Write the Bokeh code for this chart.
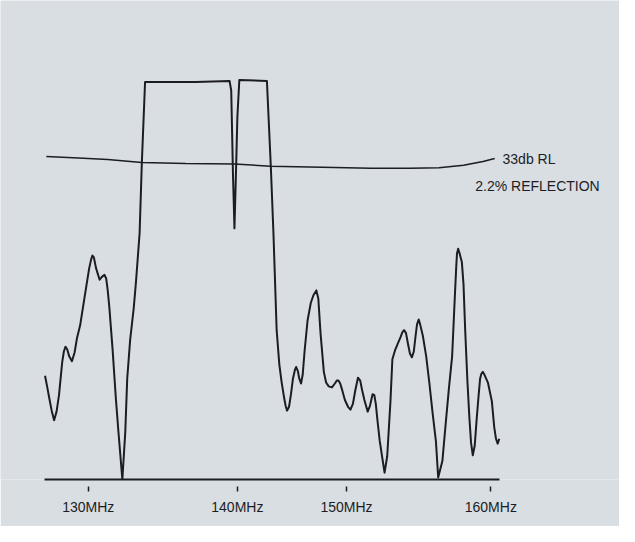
from bokeh.plotting import figure
from bokeh.models import Range1d, FixedTicker, ColumnDataSource
from bokeh.core.properties import value
from bokeh.embed import file_html
from bokeh.resources import INLINE

# Sweep position (horizontal chart units) and response level (vertical chart units)
sweep_pos = [45.7, 48, 50, 52.5, 55, 57.5, 60, 63.3, 65, 66.7, 68.5, 70.5, 73.3, 76, 78.5,
             81.7, 85, 88.3, 91, 93, 94.3, 95.8, 98, 101.7, 104, 106.7, 108.5, 110, 111.7,
             115, 118.3, 121, 125, 128, 130, 133, 136.7, 139, 142.7,
             145, 148.3, 200, 235, 236.7, 238.5, 240, 241.5, 243, 245, 273.3, 277.3, 280,
             283.3, 286, 288.3, 291, 292.5, 294, 296, 298, 300, 302, 303.3, 305, 306.5,
             308.3, 310, 312, 315, 318.3, 321, 324, 326, 328.3, 331.7, 334, 336.7, 340,
             343, 345, 346.7, 348.5, 350, 353.3, 356.5, 359, 361.5, 364, 366.7, 369,
             371, 373.3, 376.7, 379, 381.7, 383.5, 385, 386.7, 389, 391.7, 394, 396.7,
             400, 402, 405, 408.3, 410.5, 412.3, 414, 416, 418, 420, 422, 424, 425.8,
             427.3, 429, 430.5, 433.3, 436.7, 440, 443, 446.7, 449, 453.3, 457, 460,
             463.3, 466, 467.5, 468.3, 469.5, 471, 473.3, 475, 476.7, 479, 481, 482.7,
             484.5, 486.5, 488.3, 490.5, 492, 493.3, 494.8, 496.5, 500, 504, 506.5, 508.3,
             510, 511.7]
response = [107, 95, 84, 71, 61, 70, 87, 121, 132, 137, 134, 127, 122, 131, 146,
            159, 180, 201, 218, 227, 231, 229, 218, 206, 209, 211, 207, 195, 177,
            134, 84, 49, 0, 49, 104, 144, 177, 204, 254,
            327, 410, 410, 411, 401, 314, 259, 314, 374, 412, 411, 323, 254,
            154, 119, 101, 84, 76, 71, 75, 88, 104, 113, 116, 112, 104,
            99, 108, 133, 164, 182, 190, 195, 187, 151, 111, 100, 96, 95,
            99, 102, 102, 99, 94, 82, 75, 72, 78, 92, 105, 102,
            92, 82, 70, 76, 88, 87, 78, 61, 40, 22, 7, 24, 80,
            124, 134, 142, 147, 152, 154, 151, 140, 130, 126, 132, 148, 160,
            165, 160, 148, 127, 99, 71, 39, 2, 19, 61, 94, 127,
            187, 219, 233, 238, 233, 224, 201, 154, 101, 64, 38, 25,
            35, 60, 87, 104, 109, 111, 108, 100, 81, 54, 42, 37,
            42, 52]

# 33 dB return-loss reference line
rl_pos = [47, 80, 110, 145, 190, 240, 277, 330, 380, 420, 450, 475, 495, 507]
rl_level = [333, 331.5, 330, 327, 326, 325.5, 323, 322, 321, 321, 321.5, 324, 328, 331]

# Axis ticks
tick_pos = [90, 243, 355, 503]
tick_labels = ["130MHz", "140MHz", "150MHz", "160MHz"]

# Annotation texts
note_x = [515, 487]
note_y = [331, 302.5]
note_text = ["33db RL", "2.2% REFLECTION"]

BG = "#d9dee3"
INK = "#1c1d24"
FONT = "Liberation Sans"

p = figure(width=619, height=526, output_backend="svg", toolbar_location=None,
           x_range=Range1d(0, 635), y_range=Range1d(0, 494),
           min_border_left=0, min_border_right=0, min_border_top=0, min_border_bottom=47)
p.background_fill_color = BG
p.border_fill_color = BG
p.outline_line_color = None
p.xgrid.visible = False
p.ygrid.visible = False
p.yaxis.visible = False

xa = p.xaxis[0]
xa.bounds = (45, 512)
xa.ticker = FixedTicker(ticks=tick_pos)
xa.major_label_overrides = {t: l for t, l in zip(tick_pos, tick_labels)}
xa.minor_tick_line_color = None
xa.axis_line_color = INK
xa.axis_line_width = 2
xa.major_tick_line_color = INK
xa.major_tick_line_width = 1.5
xa.major_tick_in = -7
xa.major_tick_out = 12
xa.major_label_standoff = 7
xa.major_label_text_font = FONT
xa.major_label_text_font_size = "14px"
xa.major_label_text_color = INK

p.line(rl_pos, rl_level, line_color=INK, line_width=1.5)
p.line(sweep_pos, response, line_color=INK, line_width=2, line_join="round")

src = ColumnDataSource(dict(x=note_x, y=note_y, t=note_text))
p.text(x="x", y="y", text="t", source=src, text_font=value(FONT),
       text_font_size="14px", text_color=INK, text_baseline="middle", text_align="left")

open("out.html", "w").write(file_html(p, INLINE))
